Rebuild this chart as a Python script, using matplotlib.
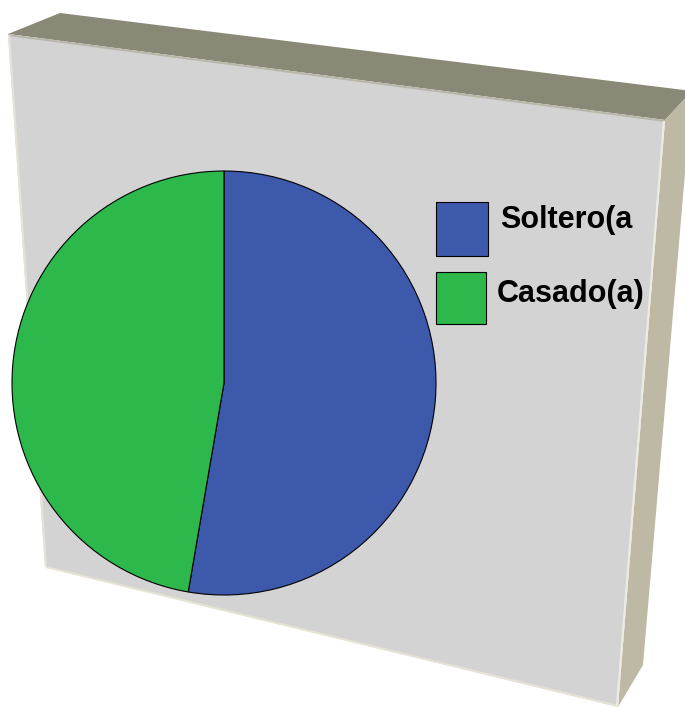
import matplotlib
matplotlib.use("Agg")
import matplotlib.pyplot as plt
from matplotlib.patches import Polygon, Rectangle

# Data
categories = ["Soltero(a", "Casado(a)"]
shares = [52.7, 47.3]
colors = ["#3d59ab", "#2db84c"]

W, H = 685, 708
fig = plt.figure(figsize=(W / 100, H / 100), dpi=100)
ax = fig.add_axes([0, 0, 1, 1])


def flip(pts):
    return [(x, H - y) for x, y in pts]


# Slab behind the chart: top face, right face, front face
top_face = flip([(8, 34), (60, 13), (692, 91), (665, 120)])
right_face = flip([(665, 120), (692, 91), (643, 665), (618, 707)])
front_face = flip([(8, 34), (665, 120), (618, 707), (45, 567)])
ax.add_patch(Polygon(top_face, closed=True, fc="#8a8977", ec="none", zorder=0.1))
ax.add_patch(Polygon(right_face, closed=True, fc="#bdb9a5", ec="none", zorder=0.1))
ax.add_patch(Polygon(front_face, closed=True, fc="#d3d3d3", ec="none", zorder=0.1))
# light bevel edges on the front face
bevel = dict(lw=1.5, zorder=0.2, solid_capstyle="butt")
ax.plot(*zip(*flip([(8, 35), (665, 121)])), color="#b9b7aa", **bevel)
ax.plot(*zip(*flip([(9, 35), (46, 567)])), color="#e6e3d6", **bevel)
ax.plot(*zip(*flip([(46, 567), (618, 706)])), color="#e6e3d6", **bevel)
ax.plot(*zip(*flip([(664, 121), (617, 706)])), color="#eeece2", **bevel)

# Pie
wedges, _ = ax.pie(shares, colors=colors, startangle=90, counterclock=False,
                   center=(224, H - 383), radius=212, frame=True,
                   wedgeprops=dict(edgecolor="black", linewidth=0.8))
for w in wedges:
    w.set_zorder(1)

ax.set_xlim(0, W)
ax.set_ylim(0, H)
ax.set_aspect("equal")
ax.axis("off")

# Legend
swatches = [(436, 202, 52, 54), (436, 272, 50, 52)]
label_pos = [(500, 220), (497, 294)]
for (x, y, w, h), c, lab, (tx, ty) in zip(swatches, colors, categories, label_pos):
    ax.add_patch(Rectangle((x, H - y - h), w, h, fc=c, ec="black", lw=0.8, zorder=2))
    ax.text(tx, H - ty, lab, fontsize=22, fontweight="bold",
            family="Liberation Sans", va="center", ha="left", color="black",
            zorder=3)

fig.savefig("out.png", dpi=100)
